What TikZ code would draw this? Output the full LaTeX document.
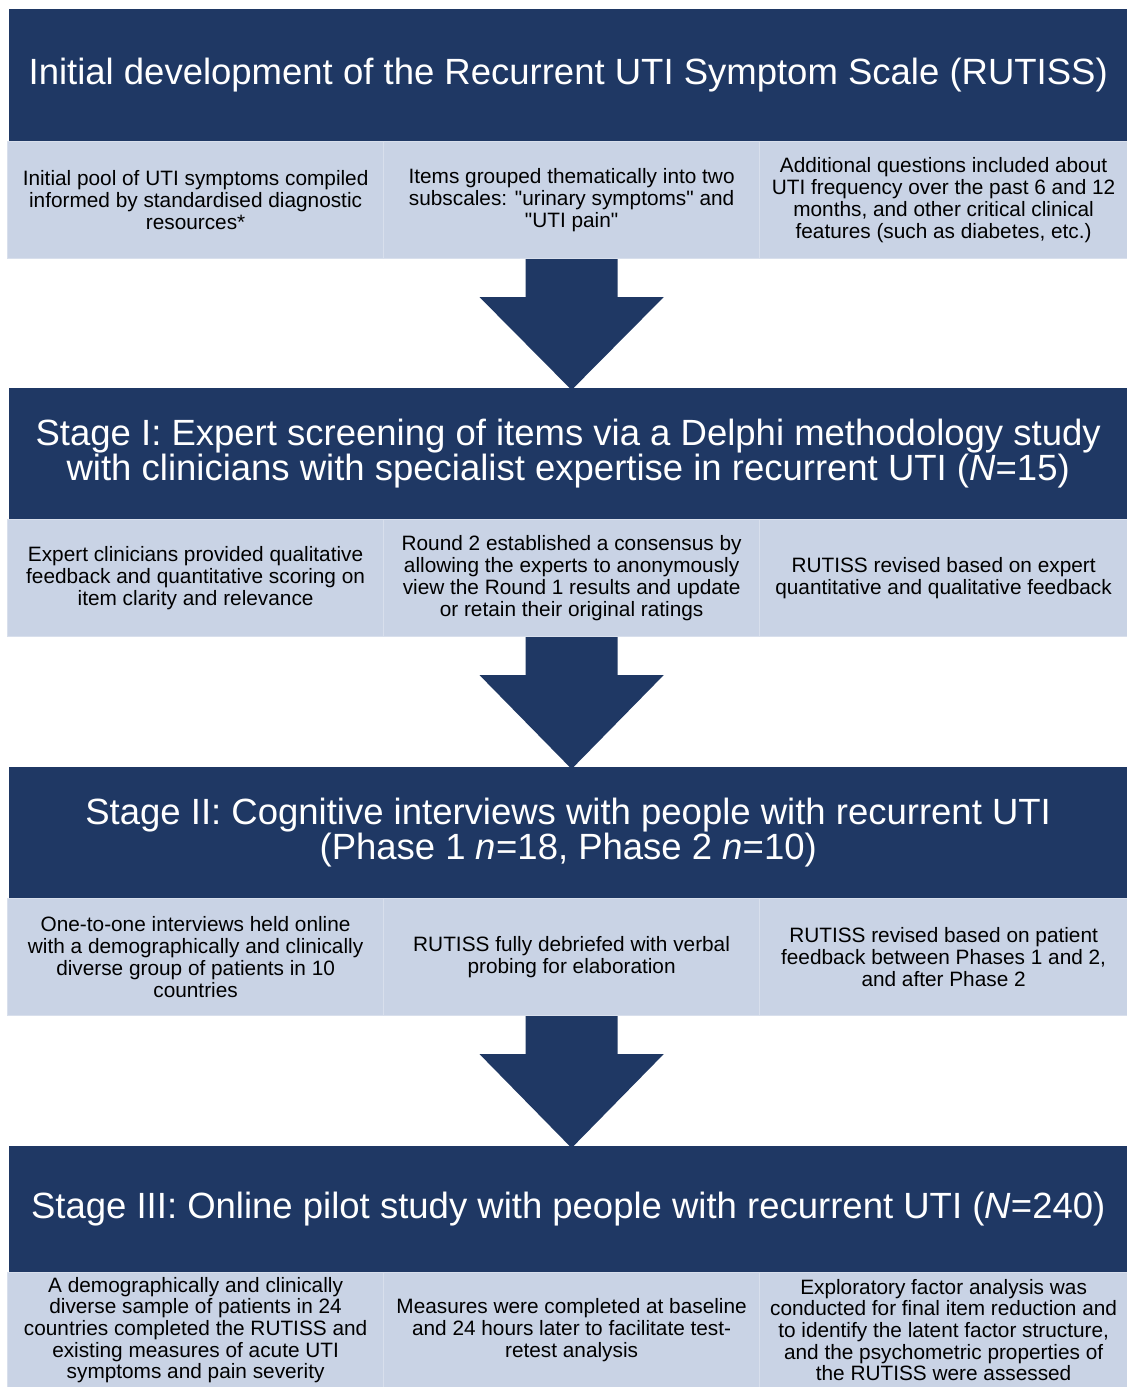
\documentclass[tikz,border=0pt]{standalone}
\usepackage{fontspec}
\setmainfont{Liberation Sans}
\usetikzlibrary{calc}

\definecolor{navy}{HTML}{1F3864}
\definecolor{cellblue}{HTML}{C9D3E5}
\definecolor{cellrule}{HTML}{D8DFEC}

% straight double quote glyph (bypasses the TeX quote mapping)
\newcommand\sq{\XeTeXglyph\XeTeXcharglyph"0022\relax}

\tikzset{
  hdr/.style={fill=navy, text=white, inner sep=0pt, align=center,
    minimum width=1118pt, anchor=north west,
    font=\fontsize{36.5}{35}\selectfont},
  cell/.style={fill=cellblue, draw=cellrule, line width=1.2pt, inner sep=0pt,
    align=center, text=black, anchor=north west,
    font=\fontsize{20.8}{21.7}\selectfont},
  colA/.style={cell, minimum width=376pt},
  colB/.style={cell, minimum width=376pt},
  colC/.style={cell, minimum width=368pt},
  bigarrow/.style={fill=navy},
}

% block arrow from the middle cell of one row down to the next header
\newcommand\flowarrow[2]{%
  \fill[bigarrow] ($(#1.south)+(-46,0)$) -- ($(#1.south)+(46,0)$)
    -- ($(#1.south)+(46,38)$) -- ($(#1.south)+(92,38)$)
    -- ($(#1.south |- #2.north)+(0,2)$)
    -- ($(#1.south)+(-92,38)$) -- ($(#1.south)+(-46,38)$) -- cycle;}

\begin{document}
\begin{tikzpicture}[x=1pt, y=-1pt]
\useasboundingbox (0,0) rectangle (1127,1387);

% ---- Initial development ----
\node[hdr, minimum height=132pt] (h1) at (9,9)
  {Initial development of the Recurrent UTI Symptom Scale (RUTISS)};
\node[colA, minimum height=117pt] (a1) at (7,141)
  {Initial pool of UTI symptoms compiled\\informed by standardised diagnostic\\resources*};
\node[colB, minimum height=117pt] (a2) at (383,141)
  {Items grouped thematically into two\\subscales: \sq urinary symptoms\sq{} and\\\sq UTI pain\sq};
\node[colC, minimum height=117pt] (a3) at (759,141)
  {Additional questions included about\\UTI frequency over the past 6 and 12\\months, and other critical clinical\\features (such as diabetes, etc.)};

% ---- Stage I ----
\node[hdr, minimum height=131pt] (h2) at (9,388)
  {Stage I: Expert screening of items via a Delphi methodology study\\with clinicians with specialist expertise in recurrent UTI (\textit{N}=15)};
\node[colA, minimum height=117pt] (b1) at (7,519)
  {Expert clinicians provided qualitative\\feedback and quantitative scoring on\\item clarity and relevance};
\node[colB, minimum height=117pt] (b2) at (383,519)
  {Round 2 established a consensus by\\allowing the experts to anonymously\\view the Round 1 results and update\\or retain their original ratings};
\node[colC, minimum height=117pt] (b3) at (759,519)
  {RUTISS revised based on expert\\quantitative and qualitative feedback};

% ---- Stage II ----
\node[hdr, minimum height=131pt] (h3) at (9,767)
  {Stage II: Cognitive interviews with people with recurrent UTI\\(Phase 1 \textit{n}=18, Phase 2 \textit{n}=10)};
\node[colA, minimum height=117pt] (c1) at (7,898)
  {One-to-one interviews held online\\with a demographically and clinically\\diverse group of patients in 10\\countries};
\node[colB, minimum height=117pt] (c2) at (383,898)
  {RUTISS fully debriefed with verbal\\probing for elaboration};
\node[colC, minimum height=117pt] (c3) at (759,898)
  {RUTISS revised based on patient\\feedback between Phases 1 and 2,\\and after Phase 2};

% ---- Stage III ----
\node[hdr, minimum height=126pt] (h4) at (9,1146)
  {Stage III: Online pilot study with people with recurrent UTI (\textit{N}=240)};
\node[colA, minimum height=115pt] (d1) at (7,1272)
  {A demographically and clinically\\diverse sample of patients in 24\\countries completed the RUTISS and\\existing measures of acute UTI\\symptoms and pain severity};
\node[colB, minimum height=115pt] (d2) at (383,1272)
  {Measures were completed at baseline\\and 24 hours later to facilitate test-\\retest analysis};
\node[colC, minimum height=115pt] (d3) at (759,1272)
  {Exploratory factor analysis was\\conducted for final item reduction and\\to identify the latent factor structure,\\and the psychometric properties of\\the RUTISS were assessed};

% ---- arrows between stages ----
\flowarrow{a2}{h2}
\flowarrow{b2}{h3}
\flowarrow{c2}{h4}
\end{tikzpicture}
\end{document}
